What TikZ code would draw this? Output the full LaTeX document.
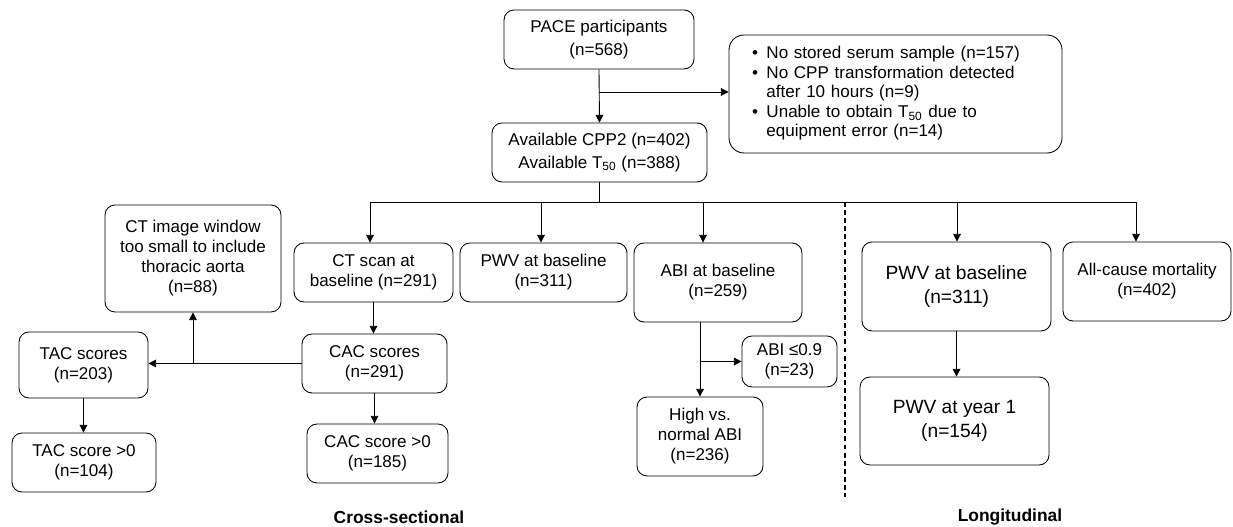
\documentclass[tikz,border=0pt]{standalone}
\usepackage{fontspec}
\setmainfont{Liberation Sans}
\usetikzlibrary{arrows.meta,positioning,calc}

\begin{document}
\begin{tikzpicture}[>={Triangle[length=4.4pt,width=4.4pt]},font=\fontsize{9.7}{11.4}\selectfont,line width=0.5pt]
\tikzstyle{bx}=[draw,rounded corners=2mm,align=center,inner sep=1pt]
\tikzstyle{big}=[font=\fontsize{10.9}{14}\selectfont]
\useasboundingbox (0,0) rectangle (24.66,10.54);
% top
\node[bx,minimum width=3.8cm,minimum height=1.18cm,font=\fontsize{9.7}{13}\selectfont] (pace) at (11.98,9.75) {PACE participants\\(n=568)};
\node[bx,minimum width=4.3cm,minimum height=1.18cm,font=\fontsize{9.7}{13}\selectfont] (avail) at (11.99,7.49) {Available CPP2 (n=402)\\Available T\textsubscript{50} (n=388)};
\node[bx,rounded corners=3mm,minimum width=6.66cm,minimum height=2.36cm,text width=5.74cm,inner xsep=0.46cm,align=left,font=\fontsize{9.7}{11.1}\selectfont] (excl) at (17.91,8.66) {%
\begin{tabular}{@{}l@{\hspace{0.17cm}}l@{}}
\textbullet & No stored serum sample (n=157)\\
\textbullet & No CPP transformation detected\\
 & after 10 hours (n=9)\\
\textbullet & Unable to obtain T\textsubscript{50} due to\\
 & equipment error (n=14)
\end{tabular}};
% cross-sectional
\node[bx,minimum width=3.18cm,minimum height=1.18cm] (ctscan) at (7.47,5.09) {CT scan at\\baseline (n=291)};
\node[bx,minimum width=3.34cm,minimum height=1.18cm] (pwvb) at (10.87,5.09) {PWV at baseline\\(n=311)};
\node[bx,minimum width=3.36cm,minimum height=1.58cm] (abib) at (14.36,4.89) {ABI at baseline\\(n=259)};
\node[bx,minimum width=2.9cm,minimum height=1.18cm] (cac) at (7.49,3.27) {CAC scores\\(n=291)};
\node[bx,minimum width=2.82cm,minimum height=1.18cm] (cac0) at (7.55,1.47) {CAC score >0\\(n=185)};
\node[bx,minimum width=2.52cm,minimum height=1.58cm] (hiabi) at (14.0,1.81) {High vs.\\normal ABI\\(n=236)};
\node[bx,minimum width=1.9cm,minimum height=1.02cm] (abi09) at (15.79,3.31) {ABI ≤0.9\\(n=23)};
\node[bx,minimum width=3.52cm,minimum height=2.14cm] (ctwin) at (3.86,5.37) {CT image window\\too small to include\\thoracic aorta\\(n=88)};
\node[bx,minimum width=2.58cm,minimum height=1.32cm] (tac) at (1.67,3.24) {TAC scores\\(n=203)};
\node[bx,minimum width=2.88cm,minimum height=1.18cm] (tac0) at (1.68,1.29) {TAC score >0\\(n=104)};
% longitudinal
\node[bx,big,minimum width=3.78cm,minimum height=1.78cm] (pwvl) at (19.13,4.81) {PWV at baseline\\(n=311)};
\node[bx,minimum width=3.36cm,minimum height=1.58cm] (mort) at (22.94,4.91) {All-cause mortality\\(n=402)};
\node[bx,big,minimum width=3.78cm,minimum height=1.76cm] (pwv1) at (19.09,2.12) {PWV at year 1\\(n=154)};
\node[font=\bfseries\fontsize{9.9}{12}\selectfont] (crosslbl) at (7.98,0.2) {Cross-sectional};
\node[font=\bfseries\fontsize{9.9}{12}\selectfont] (longlbl) at (20.2,0.2) {Longitudinal};
% connectors
\coordinate (br) at (11.98,8.7);
\coordinate (d1) at (7.4,6.5); \coordinate (d2) at (10.82,6.5); \coordinate (d3) at (14.06,6.5); \coordinate (d4) at (19.14,6.5); \coordinate (d5) at (22.72,6.5);
\coordinate (dtop) at (16.9,6.5); \coordinate (dbot) at (16.9,0.6);
\draw[->] (pace.south) -- (avail.north); \draw[->] (br) -- (br -| excl.west);
\draw (avail.south) -- (avail.south |- d1); \draw (d1) -- (d5);
\draw[->] (d1) -- (d1 |- ctscan.north); \draw[->] (d2) -- (d2 |- pwvb.north); \draw[->] (d3) -- (d3 |- abib.north); \draw[->] (d4) -- (d4 |- pwvl.north); \draw[->] (d5) -- (d5 |- mort.north);
\draw[->] (ctscan.south) -- (ctscan.south |- cac.north); \draw[->] (cac.south) -- (cac.south |- cac0.north);
\draw[->] (cac.west) -- (cac.west -| tac.east); \draw[->] (cac.west -| ctwin.south) -- (ctwin.south);
\draw[->] (tac.south) -- (tac.south |- tac0.north);
\draw[->] (hiabi.north |- abib.south) -- (hiabi.north); \draw[->] (hiabi.north |- abi09.west) -- (abi09.west);
\draw[->] (pwvl.south) -- (pwvl.south |- pwv1.north);
\draw[line width=0.9pt,dash pattern=on 2.8pt off 1.8pt] (dtop) -- (dbot);
\end{tikzpicture}
\end{document}
